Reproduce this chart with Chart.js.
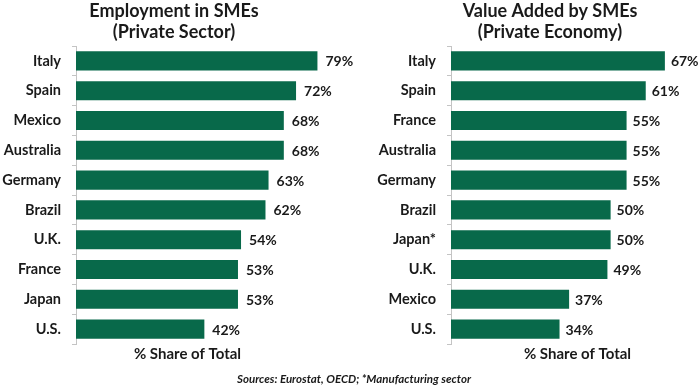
<!DOCTYPE html>
<html><head><meta charset="utf-8">
<script src="https://cdn.jsdelivr.net/npm/chart.js@4/dist/chart.umd.min.js"></script>
<style>
html,body{margin:0;padding:0;background:#fff;}
#wrap{position:relative;width:700px;height:391px;overflow:hidden;background:#fff;}
canvas{position:absolute;top:0;}
#src{position:absolute;left:237px;top:372px;white-space:nowrap;font:italic bold 11.5px Lato, sans-serif;color:#1a1a1a;}
</style></head>
<body>
<div id="wrap">
<canvas id="c1" width="360" height="391" style="left:0"></canvas>
<canvas id="c2" width="350" height="391" style="left:350px"></canvas>
<div id="src">Sources: Eurostat, OECD; *Manufacturing sector</div>
</div>
<script>
// ---- data ----
const empCountries = ['Italy','Spain','Mexico','Australia','Germany','Brazil','U.K.','France','Japan','U.S.'];
const empShare = [79,72,68,68,63,62,54,53,53,42];
const vaCountries = ['Italy','Spain','France','Australia','Germany','Brazil','Japan*','U.K.','Mexico','U.S.'];
const vaShare = [67,61,55,55,55,50,50,49,37,34];
const empTitle = ['Employment in SMEs','(Private Sector)'];
const vaTitle = ['Value Added by SMEs','(Private Economy)'];
const axisTitle = '% Share of Total';

const FONT = 'Lato, "Liberation Sans", sans-serif';
const TXT = '#1a1a1a';
const BAR = '#08694a';
const AXIS = '#c4c4c4';

const textPlugin = {
  id: 'textLayer',
  afterDatasetsDraw(chart, args, opts) {
    const ctx = chart.ctx;
    const meta = chart.getDatasetMeta(0);
    const vals = chart.data.datasets[0].data;
    ctx.save();
    ctx.fillStyle = TXT;
    ctx.textBaseline = 'middle';
    // value labels
    ctx.font = 'bold 14px ' + FONT;
    ctx.textAlign = 'left';
    meta.data.forEach((bar, i) => {
      ctx.fillText(vals[i] + '%', bar.x + opts.gap, bar.y + 1);
    });
    // axis title
    ctx.font = 'bold 15px ' + FONT;
    ctx.textAlign = 'center';
    ctx.fillText(opts.axisTitle, chart.chartArea.left + opts.axisTitleOffset, chart.chartArea.bottom + 10);
    // chart title (two lines)
    ctx.font = 'bold 18px ' + FONT;
    opts.title.forEach((line, i) => {
      ctx.fillText(line, opts.titleX, 11 + i * 21.5);
    });
    ctx.restore();
  }
};

function makeChart(id, labels, values, cfg) {
  return new Chart(document.getElementById(id), {
    type: 'bar',
    data: {labels: labels, datasets: [{data: values, backgroundColor: BAR, borderWidth: 0, barPercentage: 0.64, categoryPercentage: 1}]},
    options: {
      indexAxis: 'y',
      responsive: false,
      animation: false,
      layout: {padding: {left: 0, right: cfg.padRight, top: 46, bottom: 47}},
      plugins: {
        legend: {display: false},
        tooltip: {enabled: false},
        title: {display: false},
        textLayer: {gap: cfg.gap, axisTitle: axisTitle, axisTitleOffset: cfg.axisTitleOffset, title: cfg.title, titleX: cfg.titleX}
      },
      scales: {
        x: {display: false, min: 0, max: cfg.max},
        y: {
          afterFit(s) { s.width = cfg.yWidth; },
          grid: {display: true, drawOnChartArea: false, drawTicks: true, tickLength: 4, color: AXIS, offset: true},
          border: {display: true, color: AXIS, width: 1},
          ticks: {padding: 11, color: TXT, font: {family: FONT, size: 14.5, weight: 'bold'}}
        }
      }
    },
    plugins: [textPlugin]
  });
}

makeChart('c1', empCountries, empShare, {title: empTitle, titleX: 174, padRight: 12, yWidth: 76, max: 89, gap: 8, axisTitleOffset: 111.5});
makeChart('c2', vaCountries, vaShare, {title: vaTitle, titleX: 200, padRight: 0, yWidth: 101, max: 78, gap: 6, axisTitleOffset: 126.5});
</script>
</body></html>
